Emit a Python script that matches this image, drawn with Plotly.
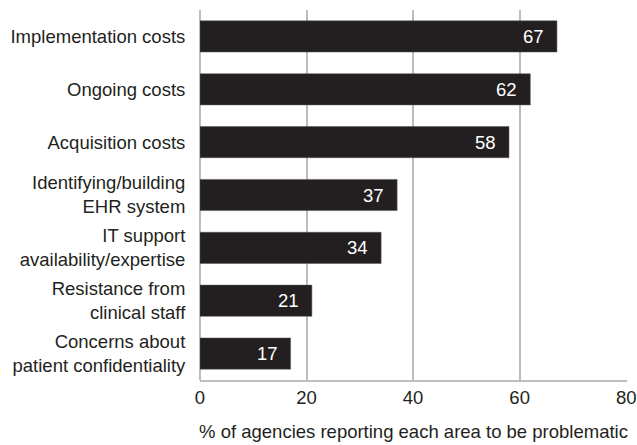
import plotly.graph_objects as go

# Survey results: share of agencies reporting each area as problematic
categories = [
    "Implementation costs",
    "Ongoing costs",
    "Acquisition costs",
    "Identifying/building<br>EHR system",
    "IT support<br>availability/expertise",
    "Resistance from<br>clinical staff",
    "Concerns about<br>patient confidentiality",
]
values = [67, 62, 58, 37, 34, 21, 17]
x_ticks = [0, 20, 40, 60, 80]
x_title = "% of agencies reporting each area to be problematic"

FONT = "Liberation Sans"
BAR = "#231f20"
GRID = "#bdbdbd"

fig = go.Figure(
    go.Bar(
        x=values,
        y=categories,
        orientation="h",
        marker=dict(color=BAR, line=dict(color="#555555", width=0.5)),
        width=0.59,
        hoverinfo="skip",
    )
)

# value labels sit inside the bar end
for cat, val in zip(categories, values):
    fig.add_annotation(
        x=val, y=cat, text=str(val), showarrow=False,
        xanchor="right", xshift=-11,
        font=dict(family=FONT, size=18.5, color="white"),
    )

fig.update_layout(
    width=637, height=445,
    margin=dict(l=200, r=10, t=10, b=65),
    plot_bgcolor="white", paper_bgcolor="white",
    showlegend=False,
    font=dict(family=FONT, size=18, color="#231f20"),
)
fig.update_xaxes(
    range=[0, 80.15], tickvals=x_ticks, automargin=False,
    ticklabeloverflow="allow",
    showgrid=True, gridcolor=GRID, gridwidth=1.5,
    showline=True, linecolor=GRID, linewidth=1.5,
    zeroline=True, zerolinecolor=GRID, zerolinewidth=1.5,
    ticks="", tickfont=dict(size=18.5),
    title=dict(text=x_title, font=dict(size=18.5), standoff=18),
)
fig.update_yaxes(
    categoryorder="array", categoryarray=categories,
    autorange="reversed", automargin=False,
    showgrid=False, showline=False, zeroline=False,
    ticks="outside", ticklen=10, tickcolor="rgba(0,0,0,0)",
    tickfont=dict(size=18.5),
)

fig.write_html("out.html")
